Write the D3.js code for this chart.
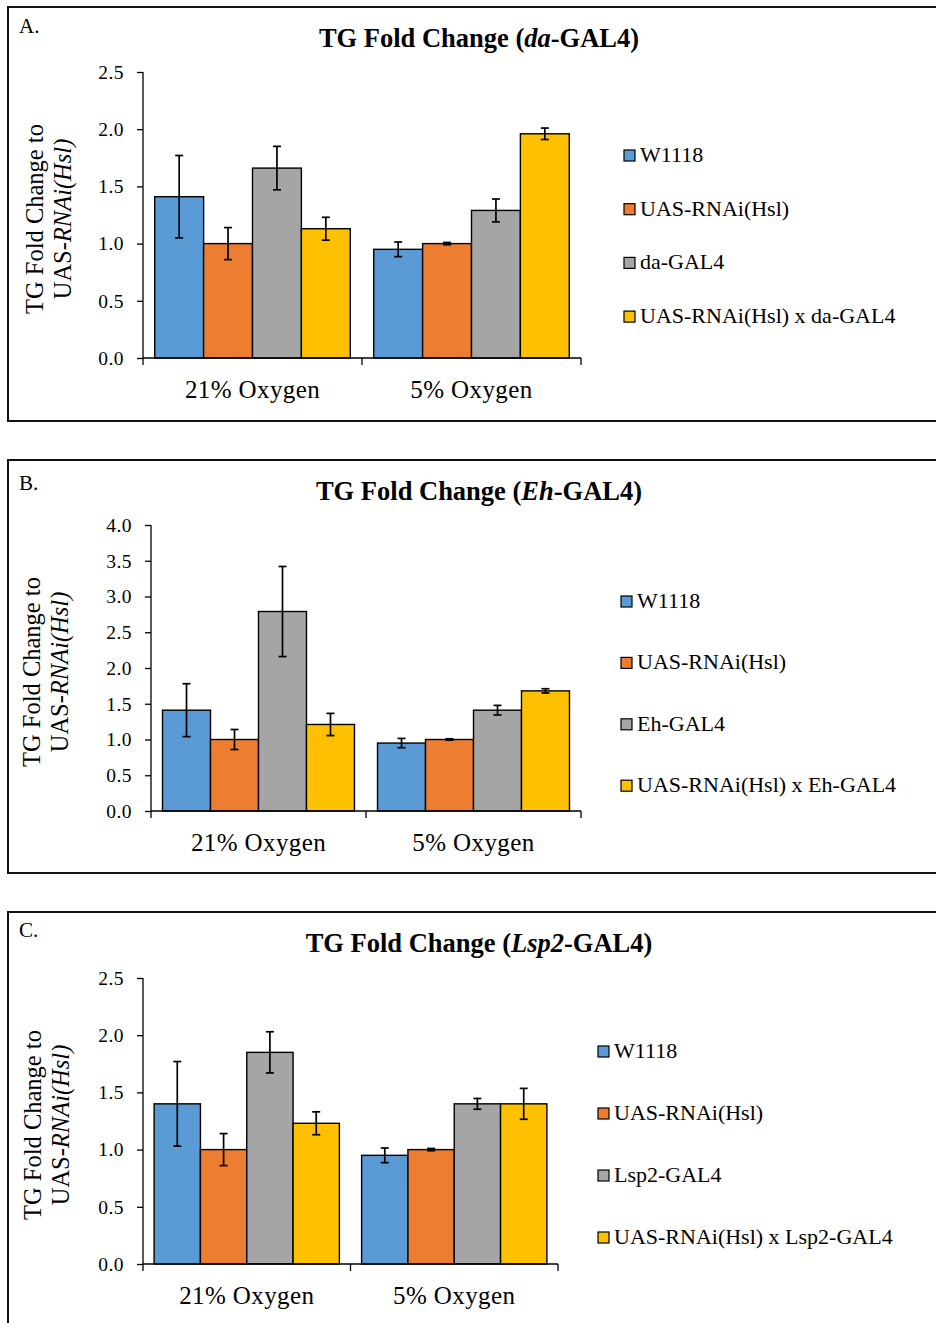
<!DOCTYPE html>
<meta charset="utf-8">
<script src="https://d3js.org/d3.v7.min.js"></script>
<style>
  body { margin: 0; background: #fff; }
  text { font-family: "Liberation Serif", "Times New Roman", serif; fill: #000; }
</style>
<div id="chart"></div>
<script>

// data
var conditions = ["21% Oxygen", "5% Oxygen"];

var driversA = ["W1118", "UAS-RNAi(Hsl)", "da-GAL4", "UAS-RNAi(Hsl) x da-GAL4"];
var valuesA = [[1.41, 1.00, 1.66, 1.13], [0.95, 1.00, 1.29, 1.96]];
var errorsA = [[0.36, 0.14, 0.19, 0.10], [0.064, 0.01, 0.10, 0.05]];
var ticksA = [0, 0.5, 1.0, 1.5, 2.0, 2.5];

var driversB = ["W1118", "UAS-RNAi(Hsl)", "Eh-GAL4", "UAS-RNAi(Hsl) x Eh-GAL4"];
var valuesB = [[1.41, 1.00, 2.79, 1.21], [0.95, 1.00, 1.41, 1.68]];
var errorsB = [[0.37, 0.14, 0.63, 0.155], [0.065, 0.01, 0.067, 0.03]];
var ticksB = [0, 0.5, 1.0, 1.5, 2.0, 2.5, 3.0, 3.5, 4.0];

var driversC = ["W1118", "UAS-RNAi(Hsl)", "Lsp2-GAL4", "UAS-RNAi(Hsl) x Lsp2-GAL4"];
var valuesC = [[1.40, 1.00, 1.85, 1.23], [0.95, 1.00, 1.40, 1.40]];
var errorsC = [[0.37, 0.14, 0.18, 0.10], [0.064, 0.01, 0.047, 0.135]];
var ticksC = [0, 0.5, 1.0, 1.5, 2.0, 2.5];

var colors = ["#5B9BD5", "#ED7D31", "#A5A5A5", "#FFC000"];

var serif = "'Liberation Serif', 'Times New Roman', serif";

var svg = d3.select("#chart").append("svg")
  .attr("width", 936)
  .attr("height", 1323);

// one framed panel
function drawPanel(p) {
  var g = svg.append("g").attr("transform", "translate(0," + p.top + ")");

  g.append("rect")
    .attr("x", 8).attr("y", 0)
    .attr("width", 960).attr("height", p.frameH)
    .attr("fill", "none")
    .attr("stroke", "#111")
    .attr("stroke-width", 2);

  g.append("text")
    .attr("x", 19).attr("y", p.letterY)
    .style("font-size", "21px")
    .text(p.letter);

  // title with italic driver name
  var t = g.append("text")
    .attr("x", 479).attr("y", 40)
    .attr("text-anchor", "middle")
    .style("font-size", "26.5px")
    .style("font-weight", "bold");
  t.append("tspan").text("TG Fold Change (");
  t.append("tspan").style("font-style", "italic").text(p.italic);
  t.append("tspan").text("-GAL4)");

  var y = d3.scaleLinear()
    .domain([0, p.ticks[p.ticks.length - 1]])
    .range([p.y0, p.y1]);

  var x0 = d3.scaleBand()
    .domain(conditions)
    .range([p.xl, p.xr]);

  var x1 = d3.scaleBand()
    .domain(d3.range(4))
    .range([0, x0.bandwidth()])
    .paddingOuter(0.24);

  // y axis
  var yAxis = g.append("g")
    .attr("transform", "translate(" + p.xl + ",0)")
    .attr("font-family", serif)
    .call(d3.axisLeft(y).tickValues(p.ticks).tickFormat(d3.format(".1f")).tickSize(6).tickPadding(13))
  yAxis.attr("font-family", serif)
  yAxis.select(".domain").remove()
  yAxis.append("line")
    .attr("y1", p.y1).attr("y2", p.y0 + 7)
    .attr("stroke", "#000").attr("stroke-width", 1.3);
  yAxis.selectAll(".tick line").attr("stroke-width", 1.3);
  yAxis.selectAll(".tick text")
    .style("font-size", "19.5px")
    .style("letter-spacing", "0.5px")
    .attr("fill", "#000")
    .style("font-family", serif);

  // bars
  var groups = g.selectAll(".grp")
    .data(conditions)
    .enter().append("g")
    .attr("transform", function(d) { return "translate(" + x0(d) + ",0)"; });

  groups.each(function(c, ci) {
    var gg = d3.select(this);
    var rows = d3.range(4).map(function(i) {
      return {i: i, v: p.values[ci][i], e: p.errors[ci][i]};
    });
    gg.selectAll("rect")
      .data(rows)
      .enter().append("rect")
      .attr("x", function(d) { return x1(d.i); })
      .attr("y", function(d) { return y(d.v); })
      .attr("width", x1.bandwidth())
      .attr("height", function(d) { return y(0) - y(d.v); })
      .attr("fill", function(d) { return colors[d.i]; })
      .attr("stroke", "#000")
      .attr("stroke-width", 1.4);

    var eb = gg.selectAll(".err")
      .data(rows)
      .enter().append("g")
      .attr("stroke", "#000")
      .attr("stroke-width", 1.7);
    eb.append("line")
      .attr("x1", function(d) { return x1(d.i) + x1.bandwidth() / 2; })
      .attr("x2", function(d) { return x1(d.i) + x1.bandwidth() / 2; })
      .attr("y1", function(d) { return y(d.v + d.e); })
      .attr("y2", function(d) { return y(d.v - d.e); });
    [1, -1].forEach(function(s) {
      eb.append("line")
        .attr("x1", function(d) { return x1(d.i) + x1.bandwidth() / 2 - 4; })
        .attr("x2", function(d) { return x1(d.i) + x1.bandwidth() / 2 + 4; })
        .attr("y1", function(d) { return y(d.v + s * d.e); })
        .attr("y2", function(d) { return y(d.v + s * d.e); });
    });
  });

  // x axis: line + boundary ticks, labels under group centres
  var xAxis = g.append("g")
    .attr("transform", "translate(0," + p.y0 + ")")
    .call(d3.axisBottom(x0).tickSize(0).tickPadding(22))
  xAxis.attr("font-family", serif)
  xAxis.select(".domain").remove()
  xAxis.selectAll(".tick text")
    .style("font-size", "25px")
    .style("letter-spacing", "0.4px")
    .style("font-family", serif)
    .attr("fill", "#000");
  xAxis.append("line")
    .attr("x1", p.xl).attr("x2", p.xr)
    .attr("stroke", "#000").attr("stroke-width", 1.3);
  xAxis.selectAll(".bnd")
    .data(conditions.slice(1).map(function(c) { return x0(c); }).concat([p.xr]))
    .enter().append("line")
    .attr("x1", function(d) { return d; }).attr("x2", function(d) { return d; })
    .attr("y1", 0).attr("y2", 7)
    .attr("stroke", "#000").attr("stroke-width", 1.3);

  // y label, two lines
  var cy = (p.y0 + p.y1) / 2 + 4;
  g.append("text")
    .attr("transform", "translate(" + p.labX + "," + cy + ") rotate(-90)")
    .attr("text-anchor", "middle")
    .style("font-size", "24.5px")
    .text("TG Fold Change to");
  var t2 = g.append("text")
    .attr("transform", "translate(" + (p.labX + 28) + "," + cy + ") rotate(-90)")
    .attr("text-anchor", "middle")
    .style("font-size", "24.5px");
  t2.append("tspan").text("UAS-");
  t2.append("tspan").style("font-style", "italic").text("RNAi(Hsl)");

  // legend
  var leg = g.selectAll(".leg")
    .data(p.drivers)
    .enter().append("g")
    .attr("transform", function(d, i) { return "translate(" + p.legX + "," + (p.legY + i * p.legStep) + ")"; });
  leg.append("rect")
    .attr("x", 0).attr("y", -5)
    .attr("width", 11).attr("height", 11)
    .attr("fill", function(d, i) { return colors[i]; })
    .attr("stroke", "#000").attr("stroke-width", 1.2);
  leg.append("text")
    .attr("x", 16).attr("y", 7)
    .style("font-size", "22px")
    .text(function(d) { return d; });
}

drawPanel({top: 7, frameH: 414, letter: "A.", letterY: 26, italic: "da",
  drivers: driversA, values: valuesA, errors: errorsA, ticks: ticksA,
  xl: 143, xr: 581, y0: 351, y1: 65, labX: 43,
  legX: 624, legY: 148, legStep: 53.7});

drawPanel({top: 460, frameH: 413, letter: "B.", letterY: 30, italic: "Eh",
  drivers: driversB, values: valuesB, errors: errorsB, ticks: ticksB,
  xl: 151, xr: 581, y0: 351, y1: 65, labX: 40,
  legX: 621, legY: 141, legStep: 61.4});

drawPanel({top: 912, frameH: 430, letter: "C.", letterY: 25, italic: "Lsp2",
  drivers: driversC, values: valuesC, errors: errorsC, ticks: ticksC,
  xl: 143, xr: 558, y0: 352, y1: 66, labX: 41,
  legX: 598, legY: 139, legStep: 62});

</script>
